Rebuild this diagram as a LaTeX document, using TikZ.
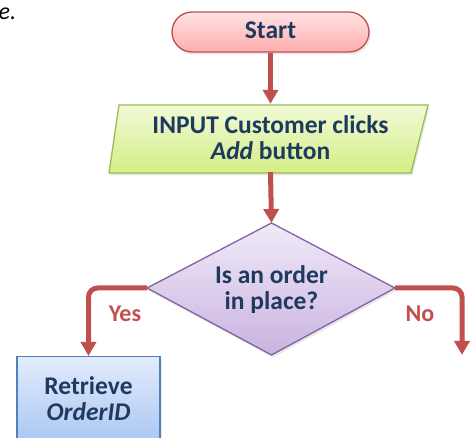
\documentclass[tikz,border=0pt]{standalone}
\usepackage{fontspec}
\setmainfont{Carlito}
\usetikzlibrary{arrows.meta,shadows}

\definecolor{flowred}{HTML}{C0504D}
\definecolor{inktext}{HTML}{1F3A5F}
\definecolor{startTop}{HTML}{FFE3E3}
\definecolor{startBot}{HTML}{FFADAD}
\definecolor{inTop}{HTML}{F1FAD6}
\definecolor{inBot}{HTML}{D3EE86}
\definecolor{inLine}{HTML}{9BBB59}
\definecolor{decTop}{HTML}{F1EAF8}
\definecolor{decBot}{HTML}{C9B3E0}
\definecolor{decLine}{HTML}{8064A2}
\definecolor{procTop}{HTML}{E2ECFC}
\definecolor{procBot}{HTML}{A3C2F2}
\definecolor{procLine}{HTML}{4F81BD}

\tikzset{
  boxtext/.style={font=\fontsize{25.5}{26}\selectfont\bfseries, text=inktext, align=center},
  flow/.style={draw=flowred, line width=5pt, rounded corners=9pt,
    -{Triangle[width=15pt,length=14pt]}},
  branchlabel/.style={font=\fontsize{24}{28}\selectfont\bfseries, text=flowred},
  softshadow/.style={drop shadow={opacity=0.18, shadow xshift=1.5pt, shadow yshift=-2.5pt}},
}

\begin{document}
\begin{tikzpicture}[x=1pt,y=-1pt]
\useasboundingbox (0,0) rectangle (472,438);
\clip (0,0) rectangle (472,438);

% fragment of the sentence above the chart
\node[anchor=base west, font=\fontsize{24}{28}\selectfont\itshape, inner sep=0pt] (tail) at (-1.5,20) {e.};

% terminator
\node[boxtext, draw=flowred, line width=1.3pt, rounded corners=20pt,
  top color=startTop, bottom color=startBot, softshadow, text depth=3pt,
  minimum width=197pt, minimum height=40pt] (start) at (270.5,32) {Start};

% input parallelogram
\path[draw=inLine, line width=1.3pt, top color=inTop, bottom color=inBot, softshadow]
  (119,105) -- (428,105) -- (411,173) -- (109,173) -- cycle;
\node[boxtext, minimum width=290pt, minimum height=68pt, inner sep=0pt] (input) at (270.5,138)
  {INPUT Customer clicks\\\textit{Add} button};

% decision diamond
\coordinate (dtop) at (271.5,223);
\coordinate (dleft) at (147,288);
\coordinate (dright) at (395,288);
\coordinate (dbot) at (271.5,355);
\path[draw=decLine, line width=1.3pt, top color=decTop, bottom color=decBot, softshadow]
  (dtop) -- (dright) -- (dbot) -- (dleft) -- cycle;
\node[boxtext] (decide) at (271.5,290) {Is an order\\in place?};

% process box, cut by the lower edge
\node[boxtext, draw=procLine, line width=1.3pt, top color=procTop, bottom color=procBot,
  softshadow, minimum width=143pt, minimum height=96pt, anchor=north] (retrieve) at (88.5,356) {};
\node[boxtext] (retrievetext) at (88.5,399) {Retrieve\\\textit{OrderID}};

% connectors
\coordinate (noend) at (462,355);
\draw[flow] (start.south) -- (input.north);
\draw[flow] (input.south) -- (dtop);
\draw[flow] (dleft) -| (retrieve.north);
\draw[flow] (dright) -| (noend);

% branch labels
\node[branchlabel] (yes) at (125,314) {Yes};
\node[branchlabel] (no) at (420,314) {No};
\end{tikzpicture}
\end{document}
